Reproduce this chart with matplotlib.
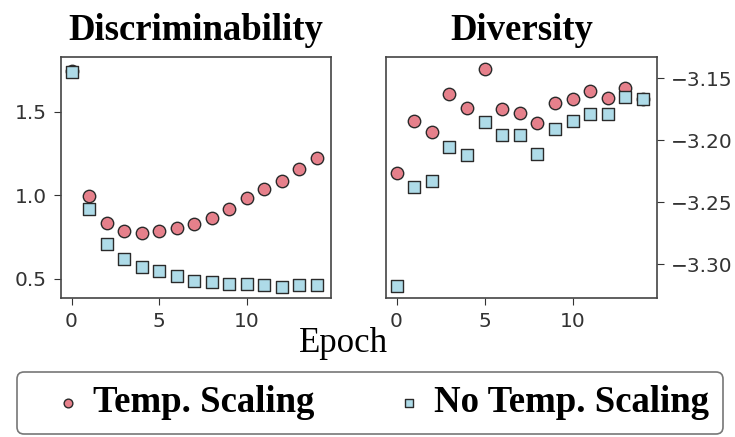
import matplotlib
matplotlib.use("Agg")
import matplotlib.pyplot as plt
import numpy as np

epochs = list(range(15))

disc_temp = [1.745, 0.996, 0.836, 0.79, 0.776, 0.79, 0.806, 0.83, 0.866, 0.916,
             0.986, 1.036, 1.086, 1.16, 1.226]
disc_notemp = [1.74, 0.916, 0.71, 0.62, 0.571, 0.547, 0.517, 0.487, 0.481, 0.471,
               0.471, 0.463, 0.455, 0.461, 0.463]

div_temp = [-3.2266, -3.1844, -3.1935, -3.1626, -3.1742, -3.1427, -3.1747, -3.1777,
            -3.1863, -3.1696, -3.1669, -3.1602, -3.1661, -3.1575, -3.1665]
div_notemp = [-3.3175, -3.2374, -3.2325, -3.2056, -3.2118, -3.1849, -3.1957, -3.1957,
              -3.2110, -3.1909, -3.1844, -3.1788, -3.1788, -3.1648, -3.1669]

titles = ["Discriminability", "Diversity"]
labels = ["Temp. Scaling", "No Temp. Scaling"]
xticks = [0, 5, 10]

red = "#e6808b"
blue = "#aedbe8"
edge = "#2a2a2a"

fig = plt.figure(figsize=(7.35, 4.37), dpi=100)
ax1 = fig.add_axes([61/735, 1-297.7/437, 270/735, 241/437])
ax2 = fig.add_axes([386/735, 1-297.7/437, 271/735, 241/437])

serif = "Liberation Serif"
for ax, t, a, b in [(ax1, titles[0], disc_temp, disc_notemp),
                    (ax2, titles[1], div_temp, div_notemp)]:
    h1 = ax.scatter(epochs, a, s=80, marker="o", facecolor=red, edgecolor=edge,
                    linewidth=1.0, label=labels[0], zorder=2)
    h2 = ax.scatter(epochs, b, s=80, marker="s", facecolor=blue, edgecolor=edge,
                    linewidth=1.0, label=labels[1], zorder=3)
    ax.set_title(t, fontfamily=serif, fontweight="bold", fontsize=26.5, pad=12)
    ax.set_xticks(xticks)
    ax.set_xlim(-0.6, 14.8)
    ax.tick_params(labelsize=14.5, colors="#333333", length=5, pad=5)
    for sp in ax.spines.values():
        sp.set_color("#444444")
        sp.set_linewidth(1.2)

ax1.set_ylim(0.388, 1.83)
ax1.set_yticks([0.5, 1.0, 1.5])
ax2.set_ylim(-3.3269, -3.1325)
ax2.set_yticks([-3.30, -3.25, -3.20, -3.15])
ax2.yaxis.tick_right()

fig.text(344/735, 1-343/437, "Epoch", fontfamily=serif, fontsize=25,
         ha="center", va="center")

leg = fig.legend(handles=[h1, h2], labels=labels, loc="center",
                 bbox_to_anchor=(370/735, 1-403/437), ncol=2,
                 prop={"family": serif, "weight": "bold", "size": 26.5},
                 markerscale=0.7, handlelength=2.0, handletextpad=-0.3,
                 columnspacing=1.55, frameon=True, fancybox=True,
                 edgecolor="#555555", borderpad=0.38)
leg.get_frame().set_linewidth(1.2)

fig.savefig("out.png", dpi=100)
